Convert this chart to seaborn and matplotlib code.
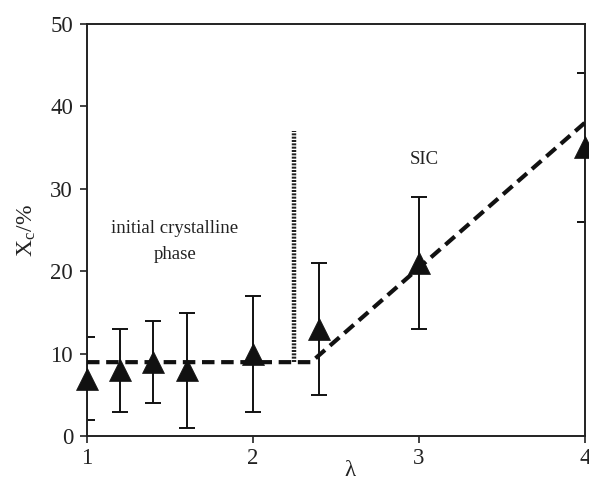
import matplotlib
matplotlib.use("Agg")
import matplotlib.pyplot as plt
import seaborn as sns
import pandas as pd

# Draw ratio and crystallinity with its spread
stretch = [1.0, 1.2, 1.4, 1.6, 2.0, 2.4, 3.0, 4.0]
crystallinity = [7, 8, 9, 8, 10, 13, 21, 35]
spread = [5, 5, 5, 7, 7, 8, 8, 9]

# Piecewise trend: flat plateau then strain-induced rise
trend_x = [1.0, 2.35, 4.0]
trend_y = [9, 9, 38]

# Onset marker for SIC
onset_x = [2.25, 2.25]
onset_y = [9, 37]

sns.set_style("white")
plt.rcParams["font.family"] = ["Liberation Serif", "DejaVu Serif"]
plt.rcParams["mathtext.fontset"] = "stix"

fig = plt.figure(figsize=(5.89, 4.83), dpi=100)
ax = fig.add_axes([0.1477, 0.0963, 0.9932 - 0.1477, 0.9513 - 0.0963])

df = pd.DataFrame({"lam": stretch, "xc": crystallinity})

ax.errorbar(stretch, crystallinity, yerr=spread, fmt="none", ecolor="#111111",
            elinewidth=1.4, capsize=5.5, capthick=1.4, zorder=2)

sns.lineplot(x=trend_x, y=trend_y, ax=ax, color="#111111", lw=3,
             linestyle=(0, (3, 1.6)), zorder=3)
ax.plot(onset_x, onset_y, color="#222222", lw=3.2,
        linestyle=(0, (0.45, 0.3)), dash_capstyle="butt", zorder=3)

sns.scatterplot(data=df, x="lam", y="xc", ax=ax, marker="^", s=250,
                color="#111111", edgecolor="#111111", linewidth=0.5,
                zorder=4, clip_on=False)

ax.set_xlim(1, 4)
ax.set_ylim(0, 50)
ax.set_xticks([1, 2, 3, 4])
ax.set_yticks([0, 10, 20, 30, 40, 50])
ax.tick_params(axis="both", direction="out", length=5, width=1.2,
               labelsize=16.5, colors="#222222", pad=3)
ax.tick_params(axis="y", pad=5)
ax.tick_params(axis="x", bottom=True)
ax.tick_params(axis="y", left=True)
for sp in ax.spines.values():
    sp.set_visible(True)
    sp.set_color("#222222")
    sp.set_linewidth(1.4)

ax.set_xlabel("λ", fontsize=16.5, color="#222222")
ax.xaxis.set_label_coords(0.528, -0.058, transform=ax.transAxes)
ax.set_ylabel(r"X$_\mathregular{c}$/%", fontsize=17, color="#222222", labelpad=9)

ax.text(1.53, 23.6, "initial crystalline\nphase", ha="center", va="center",
        fontsize=13.5, color="#222222", linespacing=1.65)
ax.text(3.03, 33.5, "SIC", ha="center", va="center", fontsize=13.5,
        color="#222222")

fig.savefig("out.png", dpi=100)
